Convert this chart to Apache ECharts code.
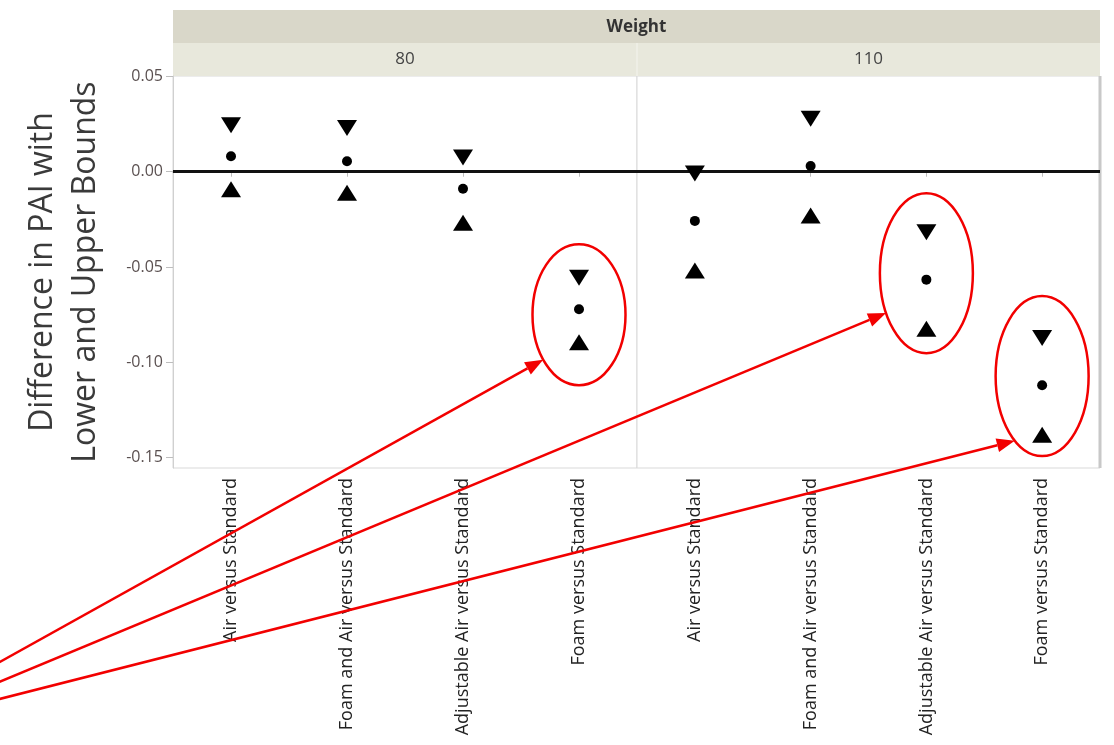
<!DOCTYPE html>
<html>
<head>
<meta charset="utf-8">
<script src="https://cdn.jsdelivr.net/npm/echarts@6/dist/echarts.min.js"></script>
<style>
html,body{margin:0;padding:0;background:#fff;}
#c{width:1114px;height:745px;}
</style>
</head>
<body>
<div id="c"></div>
<script>
// ---- data ----
const categories = ['Air versus Standard', 'Foam and Air versus Standard', 'Adjustable Air versus Standard', 'Foam versus Standard'];
const panels = ['80', '110'];
const upper80 = [0.0244, 0.0229, 0.0075, -0.0556];
const est80 = [0.0081, 0.0055, -0.0089, -0.0721];
const lower80 = [-0.0092, -0.0110, -0.0268, -0.0894];
const upper110 = [-0.0010, 0.0278, -0.0318, -0.0872];
const est110 = [-0.0258, 0.0030, -0.0566, -0.1120];
const lower110 = [-0.0518, -0.0230, -0.0824, -0.1380];
const yTicks = [-0.15, -0.10, -0.05, 0.00, 0.05];
// highlighted groups: [panel index, category index, centre value]
const highlights = [[0, 3, -0.075], [1, 2, -0.0532], [1, 3, -0.1072]];

const FONT = 'Open Sans';
const chart = echarts.init(document.getElementById('c'));

const grids = [
  {left: 173, top: 76, width: 464, height: 392},
  {left: 637, top: 76, width: 463, height: 392}
];

function xAxisFor(i) {
  return {
    type: 'category', gridIndex: i, data: categories,
    axisLine: {show: true, lineStyle: {color: '#cfcfcf', width: 2}},
    axisTick: {show: true, alignWithLabel: true, length: 5, lineStyle: {color: '#bdbdbd'}},
    axisLabel: {rotate: 90, margin: 10, fontFamily: FONT, fontSize: 18, color: '#222'},
    splitLine: {show: false}
  };
}
function yAxisFor(i) {
  const first = i === 0;
  return {
    type: 'value', gridIndex: i, min: -0.1554, max: 0.0502,
    axisLine: {show: first, lineStyle: {color: '#d0d0d0'}},
    axisTick: {show: first, customValues: yTicks, length: 7, lineStyle: {color: '#bdbdbd'}},
    axisLabel: {show: first, customValues: yTicks, margin: 10, fontFamily: FONT, fontSize: 16, color: '#5a5050',
      formatter: v => v.toFixed(2)},
    splitLine: {show: false},
    name: first ? 'Difference in PAI with\nLower and Upper Bounds' : '',
    nameLocation: 'middle', nameGap: 66,
    nameTextStyle: {fontFamily: FONT, fontSize: 32, color: '#3a3a3a', lineHeight: 43}
  };
}

function seriesFor(i, up, est, lo) {
  const style = {color: '#000', opacity: 1};
  return [
    {type: 'scatter', xAxisIndex: i, yAxisIndex: i, data: up, symbol: 'triangle', symbolRotate: 180,
      symbolSize: [20, 16], itemStyle: style, z: 5,
      markLine: {silent: true, symbol: 'none', label: {show: false},
        lineStyle: {color: '#111', width: 3, type: 'solid'}, data: [{yAxis: 0}]}},
    {type: 'scatter', xAxisIndex: i, yAxisIndex: i, data: est, symbol: 'circle', symbolSize: 10,
      itemStyle: style, z: 5},
    {type: 'scatter', xAxisIndex: i, yAxisIndex: i, data: lo, symbol: 'triangle',
      symbolSize: [20, 16], itemStyle: style, z: 5}
  ];
}

chart.setOption({
  animation: false,
  backgroundColor: '#fff',
  grid: grids.map(g => Object.assign({show: true, borderColor: '#d9d9d9', borderWidth: 1, backgroundColor: '#fff'}, g)),
  xAxis: [xAxisFor(0), xAxisFor(1)],
  yAxis: [yAxisFor(0), yAxisFor(1)],
  series: seriesFor(0, upper80, est80, lower80).concat(seriesFor(1, upper110, est110, lower110))
});

// ---- header strips and annotations ----
const gfx = [];
const L = grids[0].left, R = grids[1].left + grids[1].width;
gfx.push({type: 'rect', shape: {x: L, y: 10, width: R - L, height: 33}, style: {fill: '#d9d7c9'}, silent: true});
gfx.push({type: 'rect', shape: {x: L, y: 43, width: R - L, height: 33}, style: {fill: '#e8e8dc'}, silent: true});
gfx.push({type: 'line', shape: {x1: grids[1].left, y1: 43, x2: grids[1].left, y2: 76}, style: {stroke: '#f4f4ee', lineWidth: 1}, silent: true});
gfx.push({type: 'text', x: (L + R) / 2, y: 27, style: {text: 'Weight', fontFamily: FONT, fontSize: 17, fontWeight: 'bold', fill: '#333', align: 'center', verticalAlign: 'middle'}, silent: true});
panels.forEach((p, i) => {
  gfx.push({type: 'text', x: grids[i].left + grids[i].width / 2, y: 59,
    style: {text: p, fontFamily: FONT, fontSize: 17, fill: '#444', align: 'center', verticalAlign: 'middle'}, silent: true});
});
// right frame edge
gfx.push({type: 'line', shape: {x1: R, y1: 76, x2: R, y2: grids[1].top + grids[1].height}, style: {stroke: '#c8c8c8', lineWidth: 3}, silent: true});

const RED = '#f20000';
const ellipses = highlights.map(h => {
  const c = chart.convertToPixel({gridIndex: h[0]}, [h[1], h[2]]);
  return {cx: c[0], cy: c[1], rx: 46.5, ry: h[0] === 0 ? 70.5 : 80};
});
ellipses.forEach(e => {
  gfx.push({type: 'ellipse', shape: {cx: e.cx, cy: e.cy, rx: e.rx, ry: e.ry},
    style: {fill: 'none', stroke: RED, lineWidth: 2.5}, silent: true, z: 20});
});
// arrows from lower-left towards each ellipse (tip on the ellipse outline, lower-left side)
const tails = [[-20, 673], [-20, 690], [-20, 704]];
const tipAngles = [2.45, 2.62, 2.2]; // angle on ellipse (radians, measured from +x, y down)
ellipses.forEach((e, k) => {
  const a = tipAngles[k];
  const tx = e.cx + e.rx * Math.cos(a), ty = e.cy + e.ry * Math.sin(a);
  const sx = tails[k][0], sy = tails[k][1];
  const dx = tx - sx, dy = ty - sy, len = Math.hypot(dx, dy);
  const ux = dx / len, uy = dy / len;
  const hl = 18, hw = 7;
  const bx = tx - ux * hl, by = ty - uy * hl;
  gfx.push({type: 'line', shape: {x1: sx, y1: sy, x2: bx, y2: by}, style: {stroke: RED, lineWidth: 2.5}, silent: true, z: 20});
  gfx.push({type: 'polygon', shape: {points: [[tx, ty], [bx - uy * hw, by + ux * hw], [bx + uy * hw, by - ux * hw]]},
    style: {fill: RED}, silent: true, z: 20});
});
chart.setOption({graphic: gfx});
</script>
</body>
</html>
